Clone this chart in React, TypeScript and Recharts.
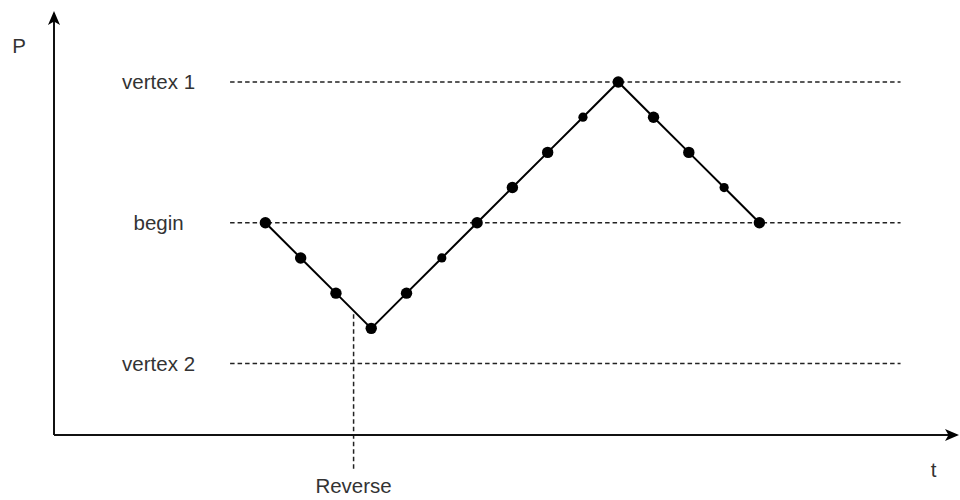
import React from 'react';
import { LineChart, Line, XAxis, YAxis, ReferenceLine } from 'recharts';

// ---- data ----
const T_STEPS = [0, 1, 2, 3, 4, 5, 6, 7, 8, 9, 10, 11, 12, 13, 14];
const P_VALUES = [0, -1, -2, -3, -2, -1, 0, 1, 2, 3, 4, 3, 2, 1, 0];
const LEVEL_VALUES = [4, 0, -4];
const LEVEL_LABELS = ['vertex 1', 'begin', 'vertex 2'];
const LEVEL_T_RANGE = [-1, 18];
const REVERSE_T = 2.5;
const REVERSE_P_RANGE = [-2.6, -7];
const REVERSE_LABEL = 'Reverse';
const X_AXIS_LABEL = 't';
const Y_AXIS_LABEL = 'P';
const MINOR_POINTS = [5, 9, 13];

const data = T_STEPS.map((t, i) => ({ t, p: P_VALUES[i] }));

// ---- styles ----
const TEXT_STYLE: React.CSSProperties = {
  fontFamily: '"Liberation Sans", Arial, Helvetica, sans-serif',
  fontSize: 20.5,
  fill: '#333',
};
const X_DOMAIN: [number, number] = [-5.99, 19.6];
const Y_DOMAIN: [number, number] = [-6.03, 5.96];

const LevelLabel = (props: any) => {
  const vb = props.viewBox;
  if (!vb) return null;
  return (
    <text x={vb.x - 71.5} y={vb.y} dy="0.35em" textAnchor="middle" style={TEXT_STYLE}>
      {props.text}
    </text>
  );
};

const ReverseLabel = (props: any) => {
  const vb = props.viewBox;
  if (!vb) return null;
  return (
    <text x={vb.x + (vb.width || 0) / 2} y={vb.y + vb.height + 24} textAnchor="middle" style={TEXT_STYLE}>
      {props.text}
    </text>
  );
};

const XLetter = (props: any) => {
  const vb = props.viewBox;
  if (!vb) return null;
  return (
    <text x={vb.x + vb.width - 23.5} y={vb.y + 42} textAnchor="middle" style={TEXT_STYLE}>
      {props.text}
    </text>
  );
};

const YLetter = (props: any) => {
  const vb = props.viewBox;
  if (!vb) return null;
  return (
    <text x={vb.x + 19} y={vb.y + 40} textAnchor="middle" style={TEXT_STYLE}>
      {props.text}
    </text>
  );
};

const renderDot = (props: any) => {
  const { cx, cy, index } = props;
  const r = MINOR_POINTS.includes(index) ? 4.6 : 5.7;
  return <circle key={`dot-${index}`} cx={cx} cy={cy} r={r} fill="#000" stroke="none" />;
};

export default function App() {
  return (
    <div style={{ position: 'absolute', left: 0, top: 0, width: 960, height: 500, background: '#fff' }}>
      <LineChart width={960} height={500} data={data} margin={{ top: 13, right: 3, bottom: 0, left: 0 }}>
        <defs>
          <marker
            id="axisArrow"
            viewBox="0 0 14 12"
            markerWidth={14}
            markerHeight={12}
            refX={12}
            refY={6}
            orient="auto-start-reverse"
            markerUnits="userSpaceOnUse"
          >
            <path d="M0,0 L14,6 L0,12 L3.5,6 Z" fill="#000" />
          </marker>
        </defs>
        <XAxis
          type="number"
          dataKey="t"
          domain={X_DOMAIN}
          allowDataOverflow
          height={65}
          tick={false}
          tickLine={false}
          axisLine={{ stroke: '#111', strokeWidth: 2, markerEnd: 'url(#axisArrow)' }}
          label={<XLetter text={X_AXIS_LABEL} />}
        />
        <YAxis
          type="number"
          domain={Y_DOMAIN}
          allowDataOverflow
          width={54}
          tick={false}
          tickLine={false}
          axisLine={{ stroke: '#111', strokeWidth: 2, markerStart: 'url(#axisArrow)' }}
          label={<YLetter text={Y_AXIS_LABEL} />}
        />
        {LEVEL_VALUES.map((v, i) => (
          <ReferenceLine
            key={`lvl-${i}`}
            segment={[
              { x: LEVEL_T_RANGE[0], y: v },
              { x: LEVEL_T_RANGE[1], y: v },
            ]}
            ifOverflow="visible"
            stroke="#222"
            strokeWidth={1.5}
            strokeDasharray="4.5 3"
            label={<LevelLabel text={LEVEL_LABELS[i]} />}
          />
        ))}
        <ReferenceLine
          segment={[
            { x: REVERSE_T, y: REVERSE_P_RANGE[0] },
            { x: REVERSE_T, y: REVERSE_P_RANGE[1] },
          ]}
          ifOverflow="visible"
          stroke="#222"
          strokeWidth={1.5}
          strokeDasharray="4.5 3"
          label={<ReverseLabel text={REVERSE_LABEL} />}
        />
        <Line
          type="linear"
          dataKey="p"
          stroke="#000"
          strokeWidth={2}
          dot={renderDot}
          activeDot={false}
          isAnimationActive={false}
        />
      </LineChart>
    </div>
  );
}
